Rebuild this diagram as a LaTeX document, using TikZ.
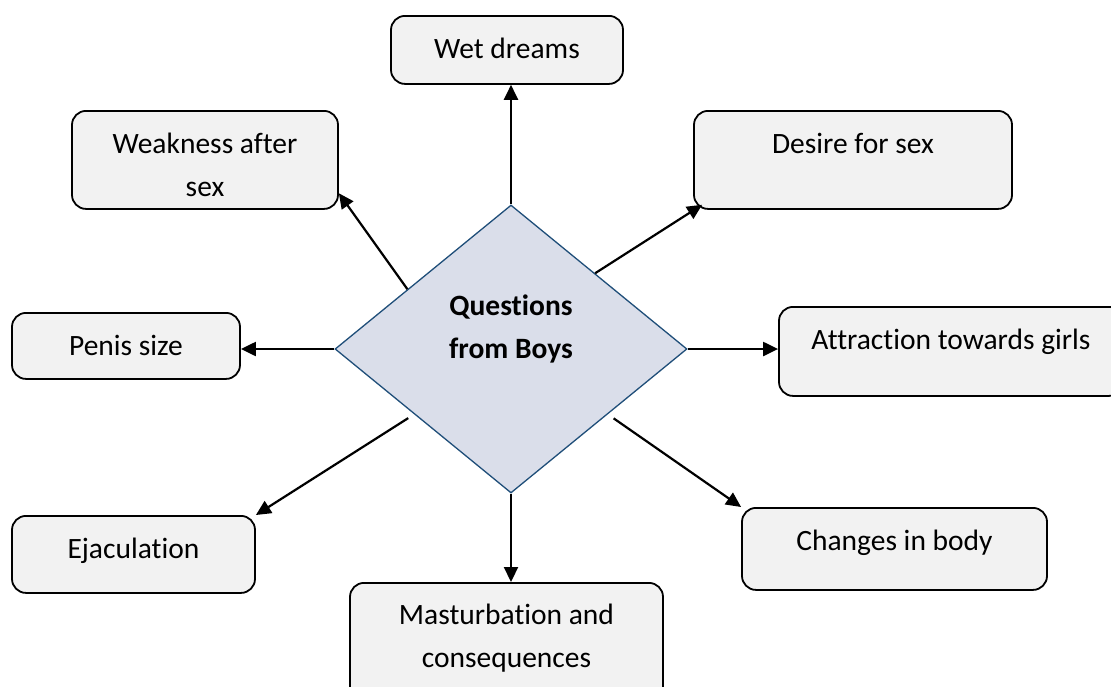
\documentclass[tikz,border=0pt]{standalone}
\usepackage{fontspec}
\setmainfont{Carlito}[Ligatures=NoCommon]
\usetikzlibrary{arrows.meta, shapes.geometric}
\definecolor{boxgray}{RGB}{242,242,242}
\definecolor{qfill}{RGB}{218,222,234}
\definecolor{qblue}{RGB}{31,78,121}
\tikzset{
  qbox/.style={draw, line width=1.8pt, fill=boxgray, rounded corners=14pt,
    anchor=north, inner xsep=0pt, inner ysep=0pt, text height=43pt,
    align=center, font=\fontsize{29.5}{43}\selectfont},
  arr/.style={-{Triangle[length=15pt,width=14pt]}, line width=2.2pt},
}

\begin{document}
\begin{tikzpicture}[x=1pt, y=-1pt]
    \useasboundingbox (0,0) rectangle (1111,686);
    % centre
    \node[shape=diamond, draw=qblue, line width=1.3pt, fill=qfill,
      minimum width=352pt, minimum height=288pt, inner sep=0pt,
      text height=60pt, text depth=42pt, align=center,
      font=\bfseries\fontsize{29.5}{43}\selectfont] (q) at (511,349) {Questions\\from Boys};
    % questions
    \node[qbox, minimum width=232pt, text depth=25pt] (wet) at (507,15) {Wet dreams};
    \node[qbox, minimum width=266pt, text height=86pt, text depth=12pt] (weak) at (205,110) {Weakness after\\sex};
    \node[qbox, minimum width=318pt, text depth=55pt] (desire) at (853,110) {Desire for sex};
    \node[qbox, minimum width=228pt, text depth=23pt] (penis) at (126,312) {Penis size};
    \node[qbox, minimum width=344pt, text depth=46pt] (attr) at (951,306) {Attraction towards girls};
    \node[qbox, minimum width=243pt, text depth=34pt] (ejac) at (133.5,515) {Ejaculation};
    \node[qbox, minimum width=305pt, text depth=39pt] (changes) at (894.5,507) {Changes in body};
    \node[qbox, minimum width=313pt, text height=85pt, text depth=40pt] (mast) at (506.5,582) {Masturbation and\\consequences};
    % arrows
    \draw[arr] (q.north) -- (q.north |- wet.south);
    \draw[arr] (q.150) -- (weak.-14);
    \draw[arr] (q.42) -- ([xshift=9pt,yshift=5pt]desire.south west);
    \draw[arr] (q.west) -- (q.west -| penis.east);
    \draw[arr] (q.east) -- (q.east -| attr.west);
    \draw[arr, shorten <=7pt] (q.214) -- (ejac.north east);
    \draw[arr, shorten <=7pt] (q.-34) -- (changes.north west);
    \draw[arr] (q.south) -- (q.south |- mast.north);
\end{tikzpicture}
\end{document}
